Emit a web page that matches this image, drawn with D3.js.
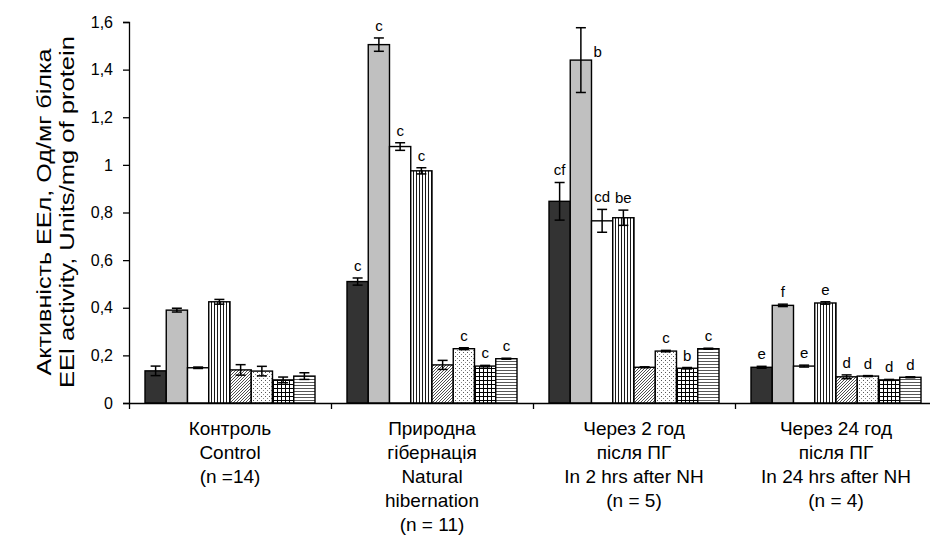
<!DOCTYPE html>
<html>
<head>
<meta charset="utf-8">
<script src="https://cdn.jsdelivr.net/npm/d3@7"></script>
<style>
  body { margin: 0; background: #fff; }
  text { font-family: "Liberation Sans", Arial, sans-serif; fill: #000; }
</style>
</head>
<body>
<svg id="chart" width="930" height="537"></svg>
<script>
// --- Data ---
const groupLabels = [
  ["Контроль", "Control", "(n =14)"],
  ["Природна", "гібернація", "Natural", "hibernation", "(n = 11)"],
  ["Через 2 год", "після ПГ", "In 2 hrs after NH", "(n = 5)"],
  ["Через 24 год", "після ПГ", "In 24 hrs after NH", "(n = 4)"]
];
const seriesNames = ["s1", "s2", "s3", "s4", "s5", "s6", "s7", "s8"];

const means = [
  [0.135, 0.390, 0.148, 0.425, 0.139, 0.134, 0.097, 0.113],
  [0.510, 1.505, 1.077, 0.975, 0.160, 0.228, 0.155, 0.186],
  [0.847, 1.440, 0.765, 0.778, 0.150, 0.218, 0.146, 0.228],
  [0.150, 0.410, 0.155, 0.420, 0.110, 0.113, 0.097, 0.108]
];
const errors = [
  [0.020, 0.008, 0.003, 0.010, 0.022, 0.020, 0.012, 0.014],
  [0.015, 0.028, 0.016, 0.013, 0.019, 0.004, 0.003, 0.002],
  [0.079, 0.136, 0.048, 0.032, 0.002, 0.003, 0.003, 0.002],
  [0.004, 0.005, 0.004, 0.005, 0.008, 0.002, 0.002, 0.002]
];
const letters = [
  ["", "", "", "", "", "", "", ""],
  ["c", "c", "c", "c", "", "c", "c", "c"],
  ["cf", "b", "cd", "be", "", "c", "b", "c"],
  ["e", "f", "e", "e", "d", "d", "d", "d"]
];

const tickValues = [0, 0.2, 0.4, 0.6, 0.8, 1, 1.2, 1.4, 1.6];
const tickLabels = ["0", "0,2", "0,4", "0,6", "0,8", "1", "1,2", "1,4", "1,6"];

const titleLines = ["Активність ЕЕл, Од/мг білка", "EEl activity, Units/mg of protein"];

// --- Setup ---
const svg = d3.select("#chart");
const plotLeft = 129, plotRight = 937, plotTop = 22, plotBottom = 403;

const fills = ["#333333", "#c0c0c0", "#ffffff", "url(#pVert)", "url(#pDiag)",
               "url(#pDots)", "url(#pGrid)", "url(#pHoriz)"];

// patterns
const defs = svg.append("defs");
function pattern(id, w, h) {
  const p = defs.append("pattern").attr("id", id)
    .attr("patternUnits", "userSpaceOnUse").attr("width", w).attr("height", h);
  p.append("rect").attr("width", w).attr("height", h).attr("fill", "#fff");
  return p;
}
pattern("pVert", 3, 3).append("line")
  .attr("x1", 1.5).attr("x2", 1.5).attr("y1", 0).attr("y2", 3)
  .attr("stroke", "#000").attr("stroke-width", 0.9);
pattern("pDiag", 3, 3).append("path")
  .attr("d", "M-1,1L1,-1M0,3L3,0M2,4L4,2")
  .attr("stroke", "#222").attr("stroke-width", 0.8);
const pd = pattern("pDots", 4, 4);
pd.append("rect").attr("x", 0).attr("y", 0).attr("width", 1).attr("height", 1).attr("fill", "#555");
pd.append("rect").attr("x", 2).attr("y", 2).attr("width", 1).attr("height", 1).attr("fill", "#888");
pattern("pGrid", 4, 4).append("path")
  .attr("d", "M0.5,0V4M0,0.5H4")
  .attr("stroke", "#000").attr("stroke-width", 1);
pattern("pHoriz", 3, 3).append("line")
  .attr("x1", 0).attr("x2", 3).attr("y1", 1.5).attr("y2", 1.5)
  .attr("stroke", "#444").attr("stroke-width", 0.9);

// scales
const x0 = d3.scaleBand().domain(d3.range(groupLabels.length)).range([plotLeft, plotRight]);
const x1 = d3.scaleBand().domain(seriesNames).range([16, x0.bandwidth() - 16]);
const y = d3.scaleLinear().domain([0, 1.6]).range([plotBottom, plotTop]);

// --- Bars ---
const groups = svg.append("g").selectAll("g")
  .data(means)
  .join("g")
  .attr("transform", (d, i) => `translate(${x0(i)},0)`);

groups.each(function (vals, gi) {
  const g = d3.select(this);
  vals.forEach((v, si) => {
    const bx = x1(seriesNames[si]);
    const bw = x1.bandwidth();
    g.append("rect")
      .attr("x", bx).attr("y", y(v))
      .attr("width", bw).attr("height", y(0) - y(v))
      .attr("fill", fills[si])
      .attr("stroke", "#000").attr("stroke-width", 1.4);

    // error bar
    const e = errors[gi][si];
    const cx = bx + bw / 2;
    const eb = g.append("g").attr("stroke", "#000").attr("stroke-width", 1.5);
    eb.append("line").attr("x1", cx).attr("x2", cx).attr("y1", y(v + e)).attr("y2", y(v - e));
    eb.append("line").attr("x1", cx - 5).attr("x2", cx + 5).attr("y1", y(v + e)).attr("y2", y(v + e));
    eb.append("line").attr("x1", cx - 5).attr("x2", cx + 5).attr("y1", y(v - e)).attr("y2", y(v - e));

    // significance letter
    const lt = letters[gi][si];
    if (lt) {
      const t = g.append("text").style("font-size", "15px").text(lt);
      if (e > 0.1) {
        // tall error bar: put letter beside the bar top
        t.attr("x", bx + bw + 2).attr("y", y(v) - 3).attr("text-anchor", "start");
      } else {
        t.attr("x", cx).attr("y", y(v + e) - 7).attr("text-anchor", "middle");
      }
    }
  });
});

// --- Axes ---
const yAxis = svg.append("g")
  .attr("transform", `translate(${plotLeft},0)`)
  .call(d3.axisLeft(y).tickValues(tickValues).tickSize(6).tickPadding(10)
    .tickFormat((d, i) => tickLabels[i]));
yAxis.selectAll("text").style("font-size", "16px");
yAxis.selectAll("path, line").attr("stroke", "#000").attr("stroke-width", 1.3);

const xb = d3.scaleLinear().domain([0, groupLabels.length]).range([plotLeft, plotRight]);
const xAxis = svg.append("g")
  .attr("transform", `translate(0,${plotBottom})`)
  .call(d3.axisBottom(xb).ticks(groupLabels.length).tickSize(6).tickSizeOuter(0).tickFormat(""));
xAxis.selectAll("path, line").attr("stroke", "#000").attr("stroke-width", 1.3);

// category labels
groupLabels.forEach((lines, gi) => {
  const t = svg.append("text")
    .attr("x", x0(gi) + x0.bandwidth() / 2)
    .attr("y", 435)
    .attr("text-anchor", "middle")
    .style("font-size", "19px");
  lines.forEach((ln, li) => {
    t.append("tspan").attr("x", x0(gi) + x0.bandwidth() / 2)
      .attr("dy", li === 0 ? 0 : 24).text(ln);
  });
});

// y title (glyphs drawn a bit stretched along the axis, as in the source)
const titleLen = [327, 352];
titleLines.forEach((ln, i) => {
  svg.append("text")
    .attr("transform", `translate(${51 + i * 23},212) rotate(-90)`)
    .attr("text-anchor", "middle")
    .attr("textLength", titleLen[i])
    .attr("lengthAdjust", "spacingAndGlyphs")
    .style("font-size", "21px")
    .text(ln);
});
</script>
</body>
</html>
